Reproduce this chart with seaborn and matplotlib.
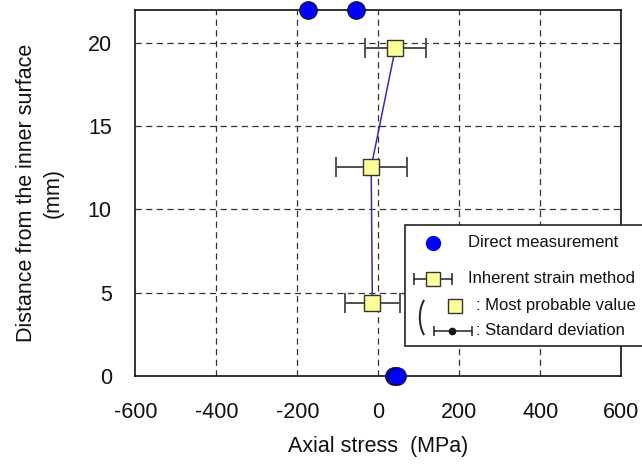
import matplotlib
matplotlib.use("Agg")
import matplotlib.pyplot as plt
import seaborn as sns
import numpy as np
import pandas as pd
from matplotlib.patches import Rectangle, Arc
from matplotlib.lines import Line2D

# ---- data ----
direct_stress = [-173, -55, 38, 45]
direct_depth = [22, 22, 0, 0]
ism_depth = [4.4, 12.55, 19.7]
ism_stress = [-15, -18, 42]
ism_std = [68, 88, 76]
xticks = [-600, -400, -200, 0, 200, 400, 600]
yticks = [0, 5, 10, 15, 20]

sns.set_style("white")
plt.rcParams['font.family'] = ['Liberation Sans', 'DejaVu Sans']

fig = plt.figure(figsize=(6.42, 4.68), dpi=100)
ax = fig.add_axes([0.211, 0.1966, 0.757, 0.7831])

# grid
for xv in xticks[1:-1]:
    ax.axvline(xv, color='#333333', lw=0.9, ls=(0, (5, 3.5)), zorder=0)
for yv in yticks[1:]:
    ax.axhline(yv, color='#333333', lw=0.9, ls=(0, (5, 3.5)), zorder=0)

df_ism = pd.DataFrame({'stress': ism_stress, 'depth': ism_depth})
sns.lineplot(data=df_ism, x='stress', y='depth', sort=False, estimator=None,
             color='#2f2faa', lw=1.1, ax=ax, zorder=2)
ax.errorbar(ism_stress, ism_depth, xerr=ism_std, fmt='none', ecolor='#505050',
            elinewidth=1.4, capsize=7.5, capthick=1.4, zorder=3)
sns.scatterplot(x=ism_stress, y=ism_depth, marker='s', s=145, color='#ffff99',
                edgecolor='#333333', linewidth=1.0, ax=ax, zorder=4)

df_dir = pd.DataFrame({'stress': direct_stress, 'depth': direct_depth})
sns.scatterplot(data=df_dir, x='stress', y='depth', marker='o', s=160,
                color='#0000ff', edgecolor='#111111', linewidth=0.8, ax=ax,
                zorder=6)
for c in ax.collections:
    c.set_clip_on(False)

ax.set_xlim(-600, 600)
ax.set_ylim(0, 22)
ax.set_xticks(xticks)
ax.set_yticks(yticks)
ax.set_xticklabels([str(v) for v in xticks])
ax.tick_params(axis='both', length=0, labelsize=15.5, colors='#111111')
ax.tick_params(axis='y', pad=17)
ax.tick_params(axis='x', pad=19)
for s in ax.spines.values():
    s.set_color('#111111')
    s.set_linewidth(1.2)
    s.set_visible(True)

ax.set_xlabel('Axial stress  (MPa)', fontsize=15.5, labelpad=9, color='#111111')
ax.set_ylabel('Distance from the inner surface\n(mm)', fontsize=15.5, labelpad=17,
              color='#111111', linespacing=1.4)

# ---- custom legend (axes coords) ----
T = ax.transAxes
X0, Y0 = 135.5, 376.0
W, H = 486.2, 366.5
def ac(px, py):
    return ((px - X0) / W, (Y0 - py) / H)

x0, y0 = ac(404.7, 346)
x1, y1 = ac(660, 225)
ax.add_patch(Rectangle((x0, y0), x1 - x0, y1 - y0, transform=T, fill=True,
                       facecolor='white', edgecolor='#222222', lw=1.2,
                       clip_on=False, zorder=8))
lf = dict(fontsize=12, va='center', ha='left', transform=T, zorder=10,
          clip_on=False, color='#111111')

# direct measurement
p = ac(433, 243)
ax.add_line(Line2D([p[0]], [p[1]], marker='o', ms=10, mfc='#0000ff', mec='#0000ff',
                   transform=T, clip_on=False, zorder=9, ls='none'))
ax.text(*ac(468, 243), 'Direct measurement', **lf)

# inherent strain method
a, b = ac(414, 279), ac(452, 279)
ax.add_line(Line2D([a[0], b[0]], [a[1], a[1]], color='#222222', lw=1.1, transform=T,
                   clip_on=False, zorder=9))
for q in (a, b):
    ax.add_line(Line2D([q[0]], [q[1]], marker='|', ms=8, mew=1.1, color='#222222',
                       transform=T, clip_on=False, zorder=9, ls='none'))
p = ac(433, 279)
ax.add_line(Line2D([p[0]], [p[1]], marker='s', ms=9.5, mfc='#ffff99', mec='#333333',
                   mew=1, transform=T, clip_on=False, zorder=10, ls='none'))
ax.text(*ac(468, 279), 'Inherent strain method', **lf)

# bracket
pc = ac(431, 317.5)
ax.add_patch(Arc(pc, 22 / W, 44 / H, theta1=106, theta2=254,
                 transform=T, color='#222222', lw=1.4, clip_on=False, zorder=9))

p = ac(455, 306)
ax.add_line(Line2D([p[0]], [p[1]], marker='s', ms=9.5, mfc='#ffff99', mec='#333333',
                   mew=1, transform=T, clip_on=False, zorder=10, ls='none'))
ax.text(*ac(476, 306), ': Most probable value', **lf)

a, b = ac(434, 331), ac(472, 331)
ax.add_line(Line2D([a[0], b[0]], [a[1], a[1]], color='#222222', lw=1.1, transform=T,
                   clip_on=False, zorder=9))
for q in (a, b):
    ax.add_line(Line2D([q[0]], [q[1]], marker='|', ms=7, mew=1.1, color='#222222',
                       transform=T, clip_on=False, zorder=9, ls='none'))
p = ac(452, 331)
ax.add_line(Line2D([p[0]], [p[1]], marker='o', ms=4.5, color='#111111',
                   transform=T, clip_on=False, zorder=10, ls='none'))
ax.text(*ac(476, 331), ': Standard deviation', **lf)

fig.savefig('out.png', dpi=100)
